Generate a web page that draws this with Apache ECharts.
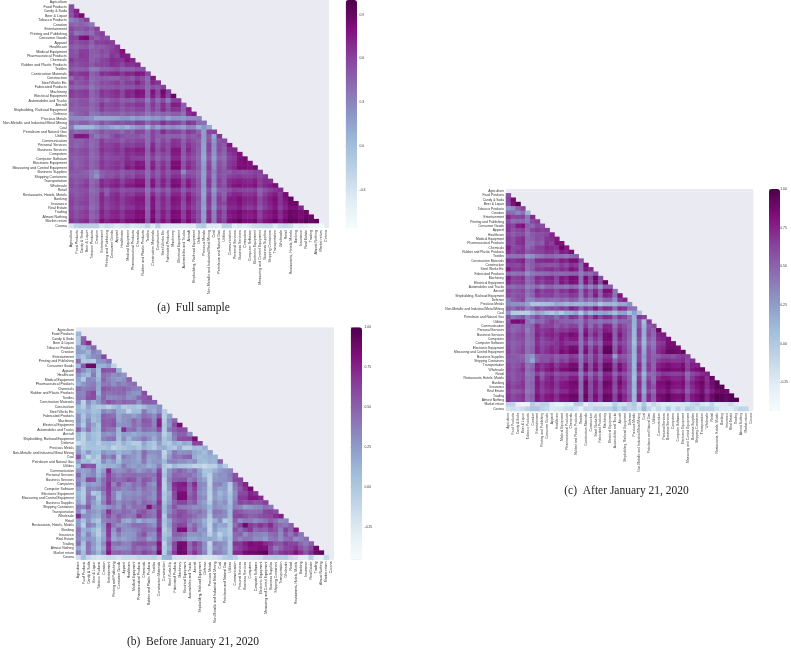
<!DOCTYPE html>
<html><head><meta charset="utf-8"><style>html,body{margin:0;padding:0;background:#fff}#c{width:791px;height:648px}</style>
<script src="https://cdn.jsdelivr.net/npm/echarts@6/dist/echarts.min.js"></script></head><body><div id="c"></div><script>
const labels=["Agriculture","Food Products","Candy & Soda","Beer & Liquor","Tobacco Products","Creation","Entertainment","Printing and Publishing","Consumer Goods","Apparel","Healthcare","Medical Equipment","Pharmaceutical Products","Chemicals","Rubber and Plastic Products","Textiles","Construction Materials","Construction","Steel Works Etc","Fabricated Products","Machinery","Electrical Equipment","Automobiles and Trucks","Aircraft","Shipbuilding, Railroad Equipment","Defense","Precious Metals","Non-Metallic and Industrial Metal Mining","Coal","Petroleum and Natural Gas","Utilities","Communication","Personal Services","Business Services","Computers","Computer Software","Electronic Equipment","Measuring and Control Equipment","Business Supplies","Shipping Containers","Transportation","Wholesale","Retail","Restaurants, Hotels, Motels","Banking","Insurance","Real Estate","Trading","Almost Nothing","Market return","Corona"];
// correlations in hundredths, one row per industry (lower triangle)
const rowsA=[[],
[55],
[55,74],
[52,72,84],
[32,38,48,60],
[46,42,46,42,34],
[58,50,50,55,46,62],
[55,38,42,46,40,56,62],
[62,60,80,84,56,48,58,55],
[60,52,58,60,48,62,62,64,62],
[50,46,50,52,42,50,50,54,58,66],
[55,50,62,62,48,50,58,54,62,66,80],
[55,52,64,62,46,46,54,50,66,60,76,74],
[66,56,60,62,46,52,60,62,70,68,66,78,72],
[58,52,58,60,50,58,60,60,68,66,58,68,66,72],
[50,46,48,50,34,36,46,46,50,54,46,48,46,52,54],
[66,60,66,68,46,52,68,66,70,72,64,72,70,78,76,58],
[42,56,54,62,42,48,50,48,46,46,54,56,50,62,56,42,78],
[62,50,54,58,42,48,56,54,58,62,52,62,60,72,62,44,72,66],
[48,44,46,48,36,44,50,50,50,54,50,52,52,58,56,42,56,50,62],
[64,58,62,64,44,52,66,62,66,70,58,72,70,80,78,46,80,58,88,62],
[62,56,60,62,44,50,64,60,64,68,58,72,68,78,76,46,76,56,82,60,90],
[50,48,54,54,40,46,54,44,52,56,46,50,46,56,54,34,58,40,56,34,60,62],
[52,48,52,54,44,50,66,56,58,62,52,62,60,66,66,44,64,50,68,52,76,74,48],
[50,46,50,50,42,48,62,54,56,58,50,56,54,60,60,44,62,50,70,54,68,66,46,74],
[36,44,48,52,36,38,46,44,46,46,42,48,44,50,48,36,46,40,46,42,48,48,38,68,74],
[30,28,28,26,24,12,14,14,14,16,22,22,16,22,20,16,22,20,28,14,24,22,20,26,26,30],
[46,40,48,48,38,42,52,44,50,54,50,56,52,62,60,44,56,54,68,56,62,60,46,66,62,42,40],
[34,6,4,4,4,14,24,20,12,8,14,6,16,22,26,8,30,16,30,22,28,22,16,30,28,10,22,12],
[50,40,44,46,38,44,54,46,50,50,42,52,46,60,58,40,60,50,70,56,62,60,48,64,60,46,18,60,60],
[52,76,78,76,46,36,46,42,52,62,52,50,50,52,46,40,60,48,50,44,46,46,40,52,48,54,20,50,14,66],
[50,46,46,52,42,46,62,52,56,56,48,56,52,58,58,40,60,44,58,48,66,64,46,60,54,46,18,52,22,52,56],
[50,44,48,52,40,46,64,60,62,66,56,62,60,64,64,42,70,50,62,56,68,66,50,66,58,50,16,60,26,56,50,78],
[56,50,56,58,44,50,68,62,64,68,62,72,70,76,74,46,74,54,68,56,78,78,50,72,60,48,16,60,24,58,46,70,72],
[52,50,54,56,42,48,64,56,60,64,60,70,66,70,70,44,66,50,60,54,76,76,50,66,58,46,14,54,22,52,44,64,68,80],
[50,46,50,54,42,46,62,54,58,58,60,68,62,62,62,42,60,44,56,48,72,72,46,60,54,44,12,50,18,46,40,60,64,80,84],
[54,46,50,56,44,50,66,58,62,66,60,72,68,78,76,44,72,52,66,54,82,82,52,68,60,46,18,58,24,54,44,64,68,80,82,80],
[56,48,52,58,44,50,66,60,64,68,62,78,72,80,80,46,76,54,70,56,84,84,54,72,62,50,20,62,26,56,48,66,72,84,84,80,86],
[52,50,48,46,36,30,48,52,52,56,48,54,52,60,58,40,60,48,62,50,62,62,28,52,52,44,18,56,32,56,50,50,58,56,54,58,62,60],
[50,48,50,50,36,24,48,54,52,60,50,60,56,66,64,42,62,50,66,54,68,68,48,60,56,46,18,58,28,56,50,60,64,66,62,62,66,58,64],
[56,50,54,60,42,48,70,64,68,72,60,70,70,78,78,46,78,56,74,60,80,78,58,76,64,50,18,66,30,62,50,70,74,76,72,70,76,62,70,68],
[58,52,58,64,44,52,72,66,72,76,66,76,76,82,82,48,80,58,74,60,84,82,60,78,66,52,20,66,30,62,52,72,78,80,76,76,80,64,72,76,84],
[52,50,54,56,40,44,58,46,60,62,52,56,56,60,60,38,58,44,56,46,66,64,48,60,54,46,16,52,20,46,48,54,62,60,58,58,62,44,54,60,66,70],
[56,50,54,58,44,46,70,50,66,70,58,64,62,70,70,42,70,52,66,52,72,72,56,72,60,50,14,60,26,56,46,66,72,72,66,66,70,48,62,70,76,64,84],
[60,52,56,60,44,50,72,62,68,72,62,70,72,78,78,46,80,58,72,60,80,78,60,78,66,54,18,66,30,64,50,76,76,82,74,72,76,58,68,76,82,66,80,90],
[62,54,60,62,44,48,70,60,66,70,62,70,72,76,76,46,78,56,70,60,78,76,56,74,64,50,20,64,28,62,56,74,74,80,72,70,74,56,66,74,80,66,76,88,88],
[58,50,52,58,40,46,68,58,64,68,58,66,66,74,72,44,78,56,68,58,74,72,54,70,60,50,16,60,24,56,46,70,70,76,66,62,68,50,62,70,78,62,72,82,82,72],
[62,54,60,64,46,52,74,64,72,74,66,76,76,82,82,48,84,60,76,64,84,82,62,80,68,56,20,70,32,68,54,78,80,86,78,76,80,62,74,78,84,70,82,90,88,84,88],
[62,54,58,62,44,50,72,64,70,72,64,74,74,80,80,48,80,58,74,62,82,80,60,78,66,54,18,68,32,66,52,74,78,84,76,74,78,60,72,76,82,68,80,90,88,82,90,88],
[68,60,66,70,50,58,80,72,78,80,72,82,82,88,88,54,88,64,80,68,90,88,68,84,72,58,20,72,34,70,58,82,86,92,84,82,86,68,80,84,90,76,88,94,92,88,94,90,94],
[-30,-16,-14,-15,-14,-14,-32,-24,-28,-36,-30,-26,-34,-30,-28,-16,-36,-14,-34,-36,-36,-34,-36,-34,-36,-14,-10,-36,-34,-38,-14,-16,-38,-32,-36,-32,-26,-24,-22,-22,-36,-24,-22,-26,-42,-38,-42,-46,-50,-52]];
const rowsB=[[],
[12],
[-2,48],
[-2,52,72],
[24,12,26,46],
[24,22,12,36,28],
[12,2,20,30,34,60],
[44,-2,2,-4,28,30,42],
[10,52,88,90,14,14,22,-8],
[46,32,18,32,8,58,54,56,14],
[28,14,8,40,6,44,40,30,34,26],
[20,-2,34,30,12,48,36,28,24,30,50],
[14,26,34,38,20,40,40,30,40,34,40,44],
[44,36,40,42,18,54,50,46,46,50,44,38,36],
[36,34,52,60,14,48,42,44,46,46,34,28,26,58],
[38,36,56,58,26,48,32,34,36,40,30,32,46,52,58],
[30,-8,32,14,26,44,56,50,44,50,46,46,30,52,52,50],
[10,-4,20,4,-2,4,-6,6,14,-2,2,4,-2,8,20,20,30],
[12,8,14,6,8,34,26,34,16,14,-10,8,8,40,22,16,30,-4],
[28,2,22,10,14,50,46,44,18,30,30,22,30,44,40,30,52,-6,20],
[30,6,32,8,14,52,50,54,20,28,32,46,34,54,52,34,74,-4,30,48],
[24,-2,36,20,4,52,50,56,28,30,30,44,36,50,50,34,76,0,26,58,84],
[50,18,42,14,6,50,42,42,12,72,42,46,30,46,42,38,58,-2,40,50,58,58],
[10,-6,14,6,0,30,26,32,10,24,22,16,22,26,24,22,32,-6,10,40,50,50,30],
[8,-8,16,8,2,36,42,44,6,30,12,26,30,42,30,16,32,2,14,36,56,58,60,84],
[-16,-6,4,6,-4,10,12,8,-2,14,4,-4,-4,20,6,0,24,2,-2,14,8,18,14,62,62],
[22,-4,4,4,2,2,8,-10,-2,2,8,10,0,14,8,-2,14,16,4,-2,16,-6,-6,8,6,16],
[26,8,26,10,8,28,20,22,12,18,18,28,20,46,30,28,32,-10,16,40,28,30,32,18,14,8,22],
[56,14,-10,8,-4,42,32,44,2,38,30,26,18,44,22,24,30,-4,24,42,38,46,50,16,8,12,14,14],
[24,6,10,-4,2,32,18,26,8,28,28,24,20,40,20,26,26,10,34,36,30,30,24,30,10,8,14,12,50],
[4,60,54,56,6,12,16,14,20,40,26,22,26,24,14,20,36,0,-8,10,2,0,-2,-10,-8,-14,-6,-6,14,-2],
[26,20,24,36,10,24,72,34,28,32,42,34,24,32,38,28,60,-2,28,40,50,42,32,42,22,2,4,14,24,30,34],
[46,18,28,34,14,32,62,44,36,44,44,46,42,44,42,42,66,4,30,48,46,42,44,36,26,6,-6,24,30,28,38,56],
[30,20,60,56,24,44,62,50,44,48,58,54,38,54,50,36,66,-4,36,52,54,54,36,46,28,20,-8,26,28,30,34,60,62],
[40,12,26,22,24,42,68,34,54,38,32,44,38,52,34,26,68,-6,28,70,76,78,50,72,34,30,-8,34,36,24,-2,40,60,74],
[20,-2,36,30,34,48,66,42,40,32,36,42,30,44,36,32,64,-6,26,66,74,72,46,64,34,26,-4,30,20,24,-4,36,52,68,86],
[10,-4,36,-2,6,36,64,36,16,30,28,32,28,38,38,28,62,0,16,60,84,84,46,58,30,24,-6,26,12,20,2,30,60,60,74,68],
[14,-2,42,30,0,30,60,38,14,34,32,36,34,42,34,28,60,-2,20,58,86,84,52,60,34,30,-8,24,16,24,6,34,66,66,78,78,72],
[20,2,42,24,10,36,64,44,30,40,38,46,34,48,42,36,70,4,24,50,62,62,46,54,30,22,-2,32,22,30,6,40,62,56,62,54,56,64],
[40,34,54,20,16,20,30,36,26,46,32,44,42,44,84,50,62,10,34,54,40,38,36,30,32,26,12,30,26,22,12,38,34,22,26,32,34,44,40],
[32,6,32,26,20,34,68,44,40,48,44,36,50,56,42,38,68,10,32,48,58,56,44,40,44,34,8,42,40,32,10,56,52,46,44,44,46,62,64,58],
[72,30,30,22,16,38,56,40,52,44,38,42,66,52,46,40,68,-2,42,52,60,54,50,44,36,32,-2,36,34,30,10,60,62,56,48,50,56,60,60,70,76],
[24,4,28,10,0,34,40,38,46,20,16,30,14,26,20,22,62,4,20,46,52,54,40,32,28,14,-6,14,30,-4,4,50,30,40,38,30,36,42,52,44,30,34],
[26,-6,38,30,8,26,70,40,30,30,34,44,44,44,36,28,62,0,24,52,62,60,34,46,32,18,-10,28,18,22,2,44,62,88,66,58,68,60,72,52,44,40,50],
[40,14,20,10,-4,24,66,28,52,30,28,32,38,48,42,40,72,-4,14,52,84,84,40,52,26,28,-12,24,10,10,-2,56,44,56,66,46,52,48,60,54,36,62,48,78],
[36,10,36,14,-6,18,66,22,38,26,26,28,44,56,34,30,66,2,10,50,50,44,26,28,30,22,-6,16,-6,10,0,46,50,30,42,36,34,32,44,48,32,54,40,58,40],
[32,18,28,24,4,22,58,18,26,20,26,30,40,42,24,30,60,6,22,40,38,32,20,20,24,20,20,16,4,20,4,44,34,42,40,30,32,24,38,42,30,44,48,30,36,44],
[44,6,44,26,8,32,74,42,46,36,36,52,56,56,50,50,80,-6,26,60,86,86,46,66,52,30,-10,38,32,28,0,68,66,76,84,80,82,72,66,56,54,66,62,62,48,40,50],
[18,0,42,22,4,22,70,34,30,30,34,50,42,48,44,34,76,-2,18,58,88,84,44,58,48,28,-6,28,34,22,2,60,66,72,80,80,84,82,60,40,50,62,64,70,56,48,60,90],
[36,8,44,28,12,32,78,48,50,44,44,54,50,62,54,48,88,-4,30,66,90,88,52,70,52,34,-6,40,36,26,2,72,72,86,88,88,92,94,64,54,66,70,70,82,70,54,70,88,92],
[-18,6,-12,-18,-22,-18,-14,-16,-20,-14,-14,-16,-10,-12,-10,-8,-16,12,14,-18,-20,-20,-18,-16,-20,-24,-22,-20,-14,-4,0,-6,-22,-20,-20,-18,-16,-6,-6,-4,-6,-4,-14,-18,-28,-28,-8,-30,-34,-14]];
const rowsC=[[],
[58],
[62,86],
[58,82,96],
[26,32,52,64],
[48,44,34,44,14],
[72,60,62,64,40,72],
[58,44,48,48,40,60,66],
[68,62,78,82,52,48,60,58],
[68,56,62,66,48,62,68,64,66],
[60,52,58,60,44,54,58,58,62,74],
[66,58,68,72,48,52,60,56,68,72,80],
[64,58,70,72,46,46,56,52,70,64,82,82],
[76,60,62,68,46,54,66,66,74,72,70,92,78],
[70,60,68,68,54,60,64,64,70,70,62,78,74,84],
[44,42,44,46,26,30,40,42,48,48,44,44,40,46,50],
[72,68,72,76,50,54,72,72,74,74,68,78,74,84,84,58],
[62,62,60,68,46,52,60,56,56,56,56,66,58,70,66,46,84],
[80,66,66,72,46,54,68,66,70,72,66,72,68,82,76,46,80,72],
[46,42,44,46,30,40,44,44,46,50,48,46,48,50,50,38,50,46,58],
[76,64,66,70,46,54,72,68,74,76,62,80,74,86,84,44,84,62,90,60],
[72,62,64,68,46,52,70,64,72,72,60,80,72,84,82,44,82,60,86,58,92],
[48,44,50,52,36,40,48,38,48,50,42,44,40,48,44,30,50,34,50,26,52,52],
[62,56,58,62,44,52,72,62,68,68,58,70,66,76,72,44,72,56,74,52,84,82,42],
[60,54,60,60,42,50,68,62,64,66,56,62,60,68,66,42,70,54,78,50,76,72,44,82],
[38,50,56,62,34,36,46,44,48,44,44,50,44,54,50,34,50,40,50,38,50,50,30,68,74],
[34,30,30,30,22,4,4,6,8,10,20,18,12,16,12,14,18,14,22,4,14,14,12,20,20,30],
[52,46,56,56,38,46,62,52,58,62,58,66,60,76,70,50,68,60,78,60,72,70,46,72,68,44,42],
[30,0,-2,-2,-4,10,22,18,8,2,12,0,14,16,24,2,28,12,24,20,24,18,8,24,24,4,24,6],
[58,42,50,56,38,48,62,50,58,58,46,60,52,70,66,42,70,56,76,60,72,70,48,68,62,44,16,68,64],
[54,84,86,82,42,34,50,46,58,66,56,52,50,52,46,40,60,46,48,42,48,46,36,50,48,50,16,54,8,66],
[58,50,50,56,42,50,72,58,64,64,52,62,56,64,62,40,68,46,64,50,74,72,44,66,58,46,14,56,14,54,60],
[56,48,52,58,38,50,72,66,70,74,62,68,66,72,72,42,78,56,68,60,78,74,52,72,62,50,12,64,18,58,50,92],
[62,54,60,64,44,50,76,66,74,76,70,80,78,86,82,46,84,60,76,60,86,88,52,80,64,48,12,64,18,62,48,76,78],
[58,54,58,60,42,48,72,60,68,72,66,80,72,78,78,44,74,52,68,56,86,86,50,74,62,46,10,58,14,54,44,72,76,84],
[56,50,54,58,42,46,70,58,64,66,68,76,68,68,68,42,66,44,60,48,80,80,46,66,58,44,8,52,12,48,40,66,68,86,84],
[60,50,56,62,44,50,74,62,68,74,68,80,76,86,84,44,80,54,74,56,92,92,52,76,64,46,12,62,18,58,44,70,74,86,88,86],
[62,52,58,64,44,50,74,64,70,76,70,86,80,88,88,46,84,56,78,58,94,94,54,80,66,50,14,66,20,60,48,72,78,90,90,88,92],
[56,54,52,50,34,28,52,56,58,60,52,58,56,66,62,38,66,50,70,52,70,70,24,58,54,44,12,60,26,60,50,54,62,62,58,64,68,64],
[54,52,54,54,34,20,50,58,56,66,54,66,60,72,70,42,68,52,72,54,76,76,48,66,60,46,12,62,22,60,50,66,70,72,68,68,72,60,70],
[60,54,58,66,42,48,76,68,74,80,66,76,76,86,86,44,86,58,82,62,90,88,58,84,70,50,12,72,26,68,50,76,80,84,80,78,84,64,76,76],
[62,56,62,70,44,52,78,70,78,84,72,84,84,90,90,48,88,60,84,62,94,92,62,86,72,52,14,72,26,68,52,80,86,88,84,84,88,66,80,84,90],
[58,54,60,62,40,44,64,50,66,68,56,62,60,66,66,36,64,44,62,46,74,72,48,66,58,46,10,56,14,50,48,60,68,66,64,64,68,46,60,66,72,76],
[62,54,60,64,44,46,78,56,72,78,64,70,68,78,78,42,78,54,72,54,80,80,58,80,66,50,8,66,20,60,46,72,80,80,74,74,78,50,68,78,84,70,92],
[66,58,62,68,44,50,80,68,76,80,68,78,80,86,88,46,90,60,80,62,90,88,62,88,72,54,12,72,26,70,50,84,84,90,82,80,84,60,76,84,90,72,88,96],
[68,60,66,68,44,48,78,66,74,78,68,78,80,84,84,46,88,58,78,62,88,84,58,82,70,50,14,70,24,68,56,82,82,88,80,78,82,58,72,82,88,72,84,94,96],
[64,54,56,62,40,46,76,64,70,74,64,72,72,82,80,44,86,58,76,60,82,80,56,76,66,50,10,66,20,60,46,78,76,84,72,68,74,52,68,76,86,66,78,88,90,88],
[68,60,66,70,46,52,82,70,80,82,72,84,84,90,90,48,92,62,84,66,92,90,64,88,74,56,14,76,28,74,54,86,88,94,86,84,88,64,80,86,92,76,90,98,96,92,96],
[68,60,64,68,44,50,80,70,78,80,70,82,82,88,88,48,88,60,82,64,90,88,62,86,72,54,12,74,28,72,52,82,86,92,84,82,86,62,78,84,90,74,88,96,96,90,96,96],
[-5,-8,-30,-36,-34,-2,-12,-6,-8,-24,-30,-30,-24,-28,-4,-4,-30,-16,-20,-20,-24,-24,-6,-18,-18,-8,0,-20,2,-22,-10,-20,-26,-26,-24,-24,-20,-20,-12,-8,-20,-24,-10,-24,-24,-22,-14,-24,-30],
[-20,-16,-20,-14,-6,2,2,-8,-12,-24,-22,-20,-14,-12,-20,-30,-12,-14,-6,-8,-6,-6,6,-10,2,-8,-4,-14,10,-10,-24,-12,-22,-2,-22,-8,-20,-2,-8,-16,-6,-8,-6,-16,-24,-24,-26,-16,-8,-10]];
const ticksA=[0.9,0.6,0.3,0,-0.3],ticksB=[1,0.75,0.5,0.25,0,-0.25],ticksC=[1,0.75,0.5,0.25,0,-0.25];
const BuPu=['#f7fcfd','#e0ecf4','#bfd3e6','#9ebcda','#8c96c6','#8c6bb1','#88419d','#810f7c','#4d004b'];
const panels=[
 {rows:rowsA,ticks:ticksA,min:-0.56,max:1,l:64,t:0.1,w:265,h:228,cl:345.7,cw:11.3,dec:1,fs:3.6,cap:"(a)  Full sample",cx:193.5,cy:307.7},
 {rows:rowsB,ticks:ticksB,min:-0.457,max:1,l:76,t:327.3,w:258,h:232.4,cl:350.7,cw:11.3,dec:2,fs:3.45,cap:"(b)  Before January 21, 2020",cx:193,cy:641.7},
 {rows:rowsC,ticks:ticksC,min:-0.436,max:1,l:506,t:189,w:247.3,h:222,cl:769,cw:11,dec:2,fs:3.3,cap:"(c)  After January 21, 2020",cx:626.5,cy:490.7}];
const grid=[],xAxis=[],yAxis=[],series=[],visualMap=[];
panels.forEach((p,i)=>{
 const data=[];p.rows.forEach((r,y)=>r.slice(0,y).forEach((v,x)=>data.push([x,y,v/100])));
 grid.push({left:p.l,top:p.t,width:p.w,height:p.h,show:true,backgroundColor:'#eaeaf2',borderWidth:0});
 const g=grid.length-1;
 xAxis.push({type:'category',gridIndex:g,data:labels,axisLine:{show:false},axisTick:{show:false},splitLine:{show:false},axisLabel:{interval:0,rotate:90,fontSize:p.fs,margin:2,color:'#333',fontFamily:'Liberation Sans'}});
 yAxis.push({type:'category',gridIndex:g,inverse:true,data:labels,axisLine:{show:false},axisTick:{show:false},splitLine:{show:false},axisLabel:{interval:0,fontSize:p.fs,margin:2,color:'#333',fontFamily:'Liberation Sans'}});
 series.push({type:'heatmap',xAxisIndex:g,yAxisIndex:g,data,itemStyle:{borderWidth:0},emphasis:{disabled:true},progressive:0,animation:false});
 visualMap.push({type:'continuous',seriesIndex:i,min:p.min,max:p.max,calculable:false,left:p.cl,top:p.t,itemWidth:p.cw,itemHeight:p.h,padding:0,text:null,showLabel:false,inRange:{color:BuPu},realtime:false,hoverLink:false});
});
panels.forEach(p=>{
 grid.push({left:p.cl,top:p.t,width:p.cw,height:p.h,show:false});
 const g=grid.length-1;
 xAxis.push({type:'value',gridIndex:g,show:false,min:0,max:1});
 yAxis.push({type:'value',gridIndex:g,position:'right',min:p.min,max:p.max,splitLine:{show:false},axisLine:{show:false},
  axisTick:{show:true,length:2,lineStyle:{color:'#555',width:0.5},customValues:p.ticks},
  axisLabel:{show:true,customValues:p.ticks,fontSize:3.4,margin:2.5,color:'#333',fontFamily:'Liberation Sans',formatter:v=>Number(v).toFixed(p.dec)}});
});
const chart=echarts.init(document.getElementById('c'),null,{renderer:'canvas'});
chart.setOption({animation:false,backgroundColor:'#fff',grid,xAxis,yAxis,series,visualMap,
 graphic:panels.map(p=>({type:'text',x:p.cx,y:p.cy,style:{text:p.cap,align:'center',verticalAlign:'middle',font:'11.5px "Liberation Serif"',fill:'#222',whiteSpace:'pre'}}))});
</script></body></html>
